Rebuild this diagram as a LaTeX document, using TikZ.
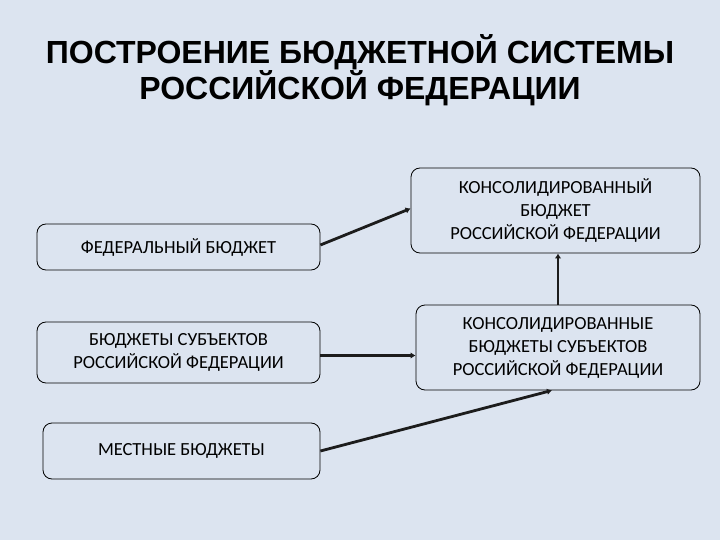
\documentclass[tikz,border=0pt]{standalone}
\usepackage{fontspec}
\setmainfont{Carlito}
\newfontfamily\titlefont{Liberation Sans}
\usepackage{xcolor}
\usetikzlibrary{arrows.meta,positioning}
\definecolor{SlideBg}{HTML}{DCE4F0}
\definecolor{LinkDark}{HTML}{1C1C1C}

\begin{document}
\begin{tikzpicture}[x=1pt, y=-1pt, >={Latex[length=5pt,width=6.5pt]},
  budget/.style={rounded corners=9pt, draw=black, line width=0.8pt, fill=SlideBg, align=center,
    font=\fontsize{18.5}{23}\selectfont, inner sep=2pt},
  link/.style={->, draw=LinkDark, line width=2.8pt}]

\fill[SlideBg] (0,0) rectangle (720,540);
\useasboundingbox (0,0) rectangle (720,540);

\node[font=\titlefont\bfseries\fontsize{32}{34}\selectfont, align=center] (title) at (360,70)
  {ПОСТРОЕНИЕ БЮДЖЕТНОЙ СИСТЕМЫ\\РОССИЙСКОЙ ФЕДЕРАЦИИ};

\node[budget, minimum width=283pt, minimum height=46pt] (fed) at (178.5,247) {ФЕДЕРАЛЬНЫЙ БЮДЖЕТ};
\node[budget, minimum width=283pt, minimum height=61pt] (subj) at (178.5,352.5) {БЮДЖЕТЫ СУБЪЕКТОВ\\РОССИЙСКОЙ ФЕДЕРАЦИИ};
\node[budget, minimum width=277pt, minimum height=56pt] (local) at (181.5,451) {МЕСТНЫЕ БЮДЖЕТЫ};

\node[budget, minimum width=289pt, minimum height=85pt] (cons) at (555.5,210.5) {КОНСОЛИДИРОВАННЫЙ\\БЮДЖЕТ\\РОССИЙСКОЙ ФЕДЕРАЦИИ};
\node[budget, minimum width=284pt, minimum height=85pt] (conssubj) at (558,347.5) {КОНСОЛИДИРОВАННЫЕ\\БЮДЖЕТЫ СУБЪЕКТОВ\\РОССИЙСКОЙ ФЕДЕРАЦИИ};

\draw[link] ([yshift=2pt]fed.east) -- ([yshift=2pt]cons.west);
\draw[link] ([yshift=-3pt]subj.east) -- ([yshift=-3pt]subj.east -| conssubj.west);
\draw[link] (local.east) -- ([xshift=-6pt]conssubj.south);
\draw[link] (conssubj.north) -- (conssubj.north |- cons.south);
\end{tikzpicture}
\end{document}
